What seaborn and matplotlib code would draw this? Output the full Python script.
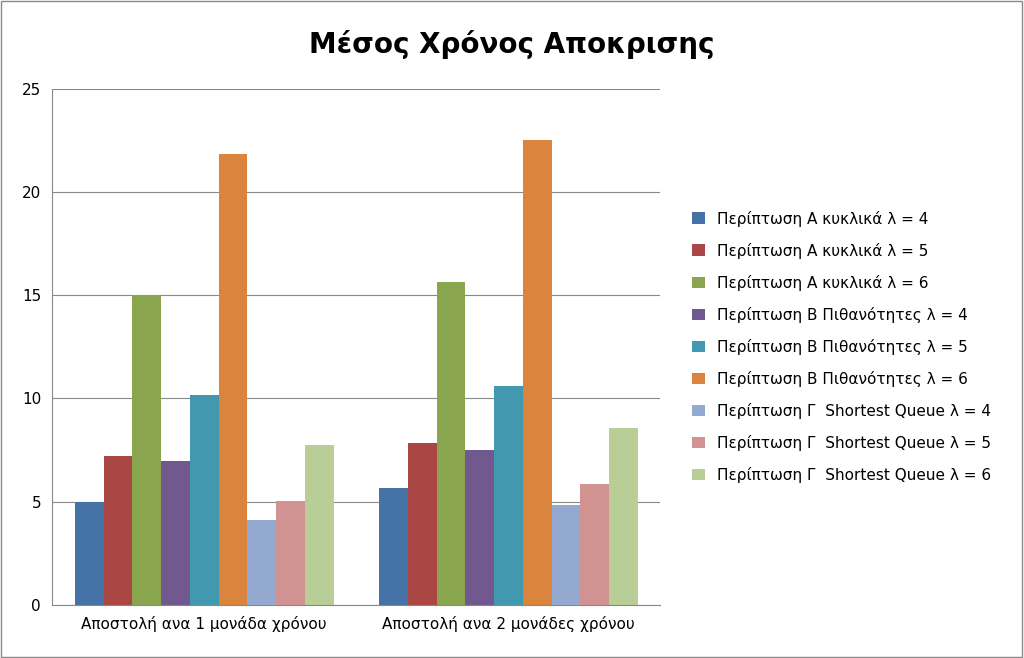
import pandas as pd
import matplotlib.pyplot as plt
import seaborn as sns

categories = ["Αποστολή ανα 1 μονάδα χρόνου", "Αποστολή ανα 2 μονάδες χρόνου"]
series = [
    "Περίπτωση Α κυκλικά λ = 4",
    "Περίπτωση Α κυκλικά λ = 5",
    "Περίπτωση Α κυκλικά λ = 6",
    "Περίπτωση Β Πιθανότητες λ = 4",
    "Περίπτωση Β Πιθανότητες λ = 5",
    "Περίπτωση Β Πιθανότητες λ = 6",
    "Περίπτωση Γ  Shortest Queue λ = 4",
    "Περίπτωση Γ  Shortest Queue λ = 5",
    "Περίπτωση Γ  Shortest Queue λ = 6",
]
values_1 = [5.0, 7.2, 15.0, 6.95, 10.15, 21.85, 4.1, 5.05, 7.75]
values_2 = [5.65, 7.85, 15.65, 7.5, 10.6, 22.5, 4.85, 5.85, 8.55]
colors = ["#4572A7", "#AA4643", "#89A54E", "#71588F", "#4198AF",
          "#DB843D", "#93A9CF", "#D19392", "#B9CD96"]

rows = []
for s, v1, v2 in zip(series, values_1, values_2):
    rows.append({"cat": categories[0], "series": s, "value": v1})
    rows.append({"cat": categories[1], "series": s, "value": v2})
df = pd.DataFrame(rows)

fig = plt.figure(figsize=(10.24, 6.58), dpi=100)
ax = fig.add_axes([0.051, 0.0805, 0.594, 0.785])
sns.barplot(data=df, x="cat", y="value", hue="series", palette=colors,
            width=0.85, gap=0, ax=ax, saturation=1, legend=True)

ax.set_ylim(0, 25)
ax.set_yticks([0, 5, 10, 15, 20, 25])
ax.yaxis.grid(True, color="#888888", linewidth=0.8)
ax.set_axisbelow(True)
ax.set_xlabel("")
ax.set_ylabel("")
for sp in ["top", "right"]:
    ax.spines[sp].set_visible(False)
ax.spines["left"].set_color("#888888")
ax.spines["bottom"].set_color("#888888")
ax.tick_params(axis="both", labelsize=11, length=0, pad=8)

ax.legend(loc="center left", bbox_to_anchor=(1.03, 0.5), frameon=False,
          fontsize=11, handlelength=0.8, handleheight=0.8, labelspacing=1.05)

fig.suptitle("Μέσος Χρόνος Αποκρισης", fontsize=20, fontweight="bold", y=0.955)
fig.patches.append(plt.Rectangle((0.001, 0.001), 0.997, 0.997, transform=fig.transFigure,
                                 fill=False, edgecolor="#888888", linewidth=1))
fig.savefig("out.png", dpi=100)
